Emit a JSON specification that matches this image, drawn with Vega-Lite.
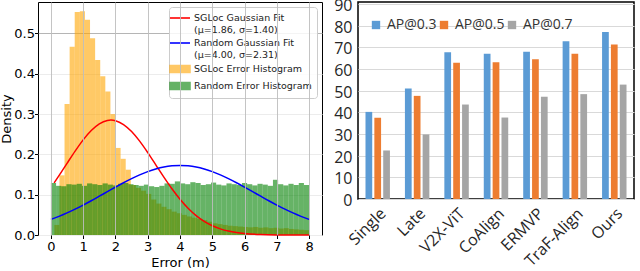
{
  "$schema": "https://vega.github.io/schema/vega-lite/v6.json",
  "padding": {"left": 0, "top": -4, "right": 2, "bottom": 0},
  "background": "white",
  "spacing": 9,
  "datasets": {
    "hist": [
      {"series": "SGLoc Error Histogram", "x0": 0.106, "x1": 0.264, "density": 0.025},
      {"series": "SGLoc Error Histogram", "x0": 0.264, "x1": 0.422, "density": 0.148},
      {"series": "SGLoc Error Histogram", "x0": 0.422, "x1": 0.58, "density": 0.325},
      {"series": "SGLoc Error Histogram", "x0": 0.58, "x1": 0.738, "density": 0.467},
      {"series": "SGLoc Error Histogram", "x0": 0.738, "x1": 0.896, "density": 0.553},
      {"series": "SGLoc Error Histogram", "x0": 0.896, "x1": 1.054, "density": 0.555},
      {"series": "SGLoc Error Histogram", "x0": 1.054, "x1": 1.212, "density": 0.534},
      {"series": "SGLoc Error Histogram", "x0": 1.212, "x1": 1.37, "density": 0.488},
      {"series": "SGLoc Error Histogram", "x0": 1.37, "x1": 1.528, "density": 0.434},
      {"series": "SGLoc Error Histogram", "x0": 1.528, "x1": 1.686, "density": 0.394},
      {"series": "SGLoc Error Histogram", "x0": 1.686, "x1": 1.844, "density": 0.356},
      {"series": "SGLoc Error Histogram", "x0": 1.844, "x1": 2.002, "density": 0.3},
      {"series": "SGLoc Error Histogram", "x0": 2.002, "x1": 2.16, "density": 0.216},
      {"series": "SGLoc Error Histogram", "x0": 2.16, "x1": 2.318, "density": 0.189},
      {"series": "SGLoc Error Histogram", "x0": 2.318, "x1": 2.476, "density": 0.162},
      {"series": "SGLoc Error Histogram", "x0": 2.476, "x1": 2.634, "density": 0.124},
      {"series": "SGLoc Error Histogram", "x0": 2.634, "x1": 2.792, "density": 0.117},
      {"series": "SGLoc Error Histogram", "x0": 2.792, "x1": 2.95, "density": 0.11},
      {"series": "SGLoc Error Histogram", "x0": 2.95, "x1": 3.108, "density": 0.102},
      {"series": "SGLoc Error Histogram", "x0": 3.108, "x1": 3.266, "density": 0.088},
      {"series": "SGLoc Error Histogram", "x0": 3.266, "x1": 3.424, "density": 0.078},
      {"series": "SGLoc Error Histogram", "x0": 3.424, "x1": 3.582, "density": 0.07},
      {"series": "SGLoc Error Histogram", "x0": 3.582, "x1": 3.74, "density": 0.064},
      {"series": "SGLoc Error Histogram", "x0": 3.74, "x1": 3.898, "density": 0.058},
      {"series": "SGLoc Error Histogram", "x0": 3.898, "x1": 4.056, "density": 0.054},
      {"series": "SGLoc Error Histogram", "x0": 4.056, "x1": 4.214, "density": 0.05},
      {"series": "SGLoc Error Histogram", "x0": 4.214, "x1": 4.372, "density": 0.046},
      {"series": "SGLoc Error Histogram", "x0": 4.372, "x1": 4.53, "density": 0.043},
      {"series": "SGLoc Error Histogram", "x0": 4.53, "x1": 4.688, "density": 0.04},
      {"series": "SGLoc Error Histogram", "x0": 4.688, "x1": 4.846, "density": 0.037},
      {"series": "SGLoc Error Histogram", "x0": 4.846, "x1": 5.004, "density": 0.033},
      {"series": "SGLoc Error Histogram", "x0": 5.004, "x1": 5.162, "density": 0.029},
      {"series": "SGLoc Error Histogram", "x0": 5.162, "x1": 5.32, "density": 0.027},
      {"series": "SGLoc Error Histogram", "x0": 5.32, "x1": 5.478, "density": 0.025},
      {"series": "SGLoc Error Histogram", "x0": 5.478, "x1": 5.636, "density": 0.023},
      {"series": "SGLoc Error Histogram", "x0": 5.636, "x1": 5.794, "density": 0.022},
      {"series": "SGLoc Error Histogram", "x0": 5.794, "x1": 5.952, "density": 0.021},
      {"series": "SGLoc Error Histogram", "x0": 5.952, "x1": 6.11, "density": 0.02},
      {"series": "SGLoc Error Histogram", "x0": 6.11, "x1": 6.268, "density": 0.019},
      {"series": "SGLoc Error Histogram", "x0": 6.268, "x1": 6.426, "density": 0.02},
      {"series": "SGLoc Error Histogram", "x0": 6.426, "x1": 6.584, "density": 0.018},
      {"series": "SGLoc Error Histogram", "x0": 6.584, "x1": 6.742, "density": 0.019},
      {"series": "SGLoc Error Histogram", "x0": 6.742, "x1": 6.9, "density": 0.017},
      {"series": "SGLoc Error Histogram", "x0": 6.9, "x1": 7.058, "density": 0.018},
      {"series": "SGLoc Error Histogram", "x0": 7.058, "x1": 7.216, "density": 0.016},
      {"series": "SGLoc Error Histogram", "x0": 7.216, "x1": 7.374, "density": 0.017},
      {"series": "SGLoc Error Histogram", "x0": 7.374, "x1": 7.532, "density": 0.015},
      {"series": "SGLoc Error Histogram", "x0": 7.532, "x1": 7.69, "density": 0.014},
      {"series": "SGLoc Error Histogram", "x0": 7.69, "x1": 7.848, "density": 0.013},
      {"series": "SGLoc Error Histogram", "x0": 7.848, "x1": 8.0, "density": 0.012},
      {"series": "Random Error Histogram", "x0": 0.0, "x1": 0.16, "density": 0.129},
      {"series": "Random Error Histogram", "x0": 0.16, "x1": 0.32, "density": 0.122},
      {"series": "Random Error Histogram", "x0": 0.32, "x1": 0.48, "density": 0.121},
      {"series": "Random Error Histogram", "x0": 0.48, "x1": 0.64, "density": 0.126},
      {"series": "Random Error Histogram", "x0": 0.64, "x1": 0.8, "density": 0.125},
      {"series": "Random Error Histogram", "x0": 0.8, "x1": 0.96, "density": 0.127},
      {"series": "Random Error Histogram", "x0": 0.96, "x1": 1.12, "density": 0.122},
      {"series": "Random Error Histogram", "x0": 1.12, "x1": 1.28, "density": 0.128},
      {"series": "Random Error Histogram", "x0": 1.28, "x1": 1.44, "density": 0.126},
      {"series": "Random Error Histogram", "x0": 1.44, "x1": 1.6, "density": 0.124},
      {"series": "Random Error Histogram", "x0": 1.6, "x1": 1.76, "density": 0.128},
      {"series": "Random Error Histogram", "x0": 1.76, "x1": 1.92, "density": 0.125},
      {"series": "Random Error Histogram", "x0": 1.92, "x1": 2.08, "density": 0.123},
      {"series": "Random Error Histogram", "x0": 2.08, "x1": 2.24, "density": 0.127},
      {"series": "Random Error Histogram", "x0": 2.24, "x1": 2.4, "density": 0.129},
      {"series": "Random Error Histogram", "x0": 2.4, "x1": 2.56, "density": 0.126},
      {"series": "Random Error Histogram", "x0": 2.56, "x1": 2.72, "density": 0.124},
      {"series": "Random Error Histogram", "x0": 2.72, "x1": 2.88, "density": 0.122},
      {"series": "Random Error Histogram", "x0": 2.88, "x1": 3.04, "density": 0.125},
      {"series": "Random Error Histogram", "x0": 3.04, "x1": 3.2, "density": 0.121},
      {"series": "Random Error Histogram", "x0": 3.2, "x1": 3.36, "density": 0.119},
      {"series": "Random Error Histogram", "x0": 3.36, "x1": 3.52, "density": 0.122},
      {"series": "Random Error Histogram", "x0": 3.52, "x1": 3.68, "density": 0.128},
      {"series": "Random Error Histogram", "x0": 3.68, "x1": 3.84, "density": 0.127},
      {"series": "Random Error Histogram", "x0": 3.84, "x1": 4.0, "density": 0.133},
      {"series": "Random Error Histogram", "x0": 4.0, "x1": 4.16, "density": 0.128},
      {"series": "Random Error Histogram", "x0": 4.16, "x1": 4.32, "density": 0.126},
      {"series": "Random Error Histogram", "x0": 4.32, "x1": 4.48, "density": 0.131},
      {"series": "Random Error Histogram", "x0": 4.48, "x1": 4.64, "density": 0.129},
      {"series": "Random Error Histogram", "x0": 4.64, "x1": 4.8, "density": 0.124},
      {"series": "Random Error Histogram", "x0": 4.8, "x1": 4.96, "density": 0.126},
      {"series": "Random Error Histogram", "x0": 4.96, "x1": 5.12, "density": 0.13},
      {"series": "Random Error Histogram", "x0": 5.12, "x1": 5.28, "density": 0.125},
      {"series": "Random Error Histogram", "x0": 5.28, "x1": 5.44, "density": 0.123},
      {"series": "Random Error Histogram", "x0": 5.44, "x1": 5.6, "density": 0.128},
      {"series": "Random Error Histogram", "x0": 5.6, "x1": 5.76, "density": 0.126},
      {"series": "Random Error Histogram", "x0": 5.76, "x1": 5.92, "density": 0.124},
      {"series": "Random Error Histogram", "x0": 5.92, "x1": 6.08, "density": 0.129},
      {"series": "Random Error Histogram", "x0": 6.08, "x1": 6.24, "density": 0.126},
      {"series": "Random Error Histogram", "x0": 6.24, "x1": 6.4, "density": 0.123},
      {"series": "Random Error Histogram", "x0": 6.4, "x1": 6.56, "density": 0.127},
      {"series": "Random Error Histogram", "x0": 6.56, "x1": 6.72, "density": 0.125},
      {"series": "Random Error Histogram", "x0": 6.72, "x1": 6.88, "density": 0.122},
      {"series": "Random Error Histogram", "x0": 6.88, "x1": 7.04, "density": 0.137},
      {"series": "Random Error Histogram", "x0": 7.04, "x1": 7.2, "density": 0.126},
      {"series": "Random Error Histogram", "x0": 7.2, "x1": 7.36, "density": 0.123},
      {"series": "Random Error Histogram", "x0": 7.36, "x1": 7.52, "density": 0.127},
      {"series": "Random Error Histogram", "x0": 7.52, "x1": 7.68, "density": 0.124},
      {"series": "Random Error Histogram", "x0": 7.68, "x1": 7.84, "density": 0.129},
      {"series": "Random Error Histogram", "x0": 7.84, "x1": 8.0, "density": 0.124}
    ],
    "curves": [
      {"series": "SGLoc Gaussian Fit (μ=1.86, σ=1.40)", "x": 0.1, "density": 0.1293},
      {"series": "SGLoc Gaussian Fit (μ=1.86, σ=1.40)", "x": 0.25, "density": 0.1471},
      {"series": "SGLoc Gaussian Fit (μ=1.86, σ=1.40)", "x": 0.5, "density": 0.1778},
      {"series": "SGLoc Gaussian Fit (μ=1.86, σ=1.40)", "x": 0.75, "density": 0.2081},
      {"series": "SGLoc Gaussian Fit (μ=1.86, σ=1.40)", "x": 1.0, "density": 0.236},
      {"series": "SGLoc Gaussian Fit (μ=1.86, σ=1.40)", "x": 1.25, "density": 0.2591},
      {"series": "SGLoc Gaussian Fit (μ=1.86, σ=1.40)", "x": 1.5, "density": 0.2757},
      {"series": "SGLoc Gaussian Fit (μ=1.86, σ=1.40)", "x": 1.75, "density": 0.2841},
      {"series": "SGLoc Gaussian Fit (μ=1.86, σ=1.40)", "x": 1.86, "density": 0.285},
      {"series": "SGLoc Gaussian Fit (μ=1.86, σ=1.40)", "x": 2.0, "density": 0.2836},
      {"series": "SGLoc Gaussian Fit (μ=1.86, σ=1.40)", "x": 2.25, "density": 0.2741},
      {"series": "SGLoc Gaussian Fit (μ=1.86, σ=1.40)", "x": 2.5, "density": 0.2567},
      {"series": "SGLoc Gaussian Fit (μ=1.86, σ=1.40)", "x": 2.75, "density": 0.2328},
      {"series": "SGLoc Gaussian Fit (μ=1.86, σ=1.40)", "x": 3.0, "density": 0.2045},
      {"series": "SGLoc Gaussian Fit (μ=1.86, σ=1.40)", "x": 3.25, "density": 0.1741},
      {"series": "SGLoc Gaussian Fit (μ=1.86, σ=1.40)", "x": 3.5, "density": 0.1435},
      {"series": "SGLoc Gaussian Fit (μ=1.86, σ=1.40)", "x": 3.75, "density": 0.1146},
      {"series": "SGLoc Gaussian Fit (μ=1.86, σ=1.40)", "x": 4.0, "density": 0.0886},
      {"series": "SGLoc Gaussian Fit (μ=1.86, σ=1.40)", "x": 4.25, "density": 0.0664},
      {"series": "SGLoc Gaussian Fit (μ=1.86, σ=1.40)", "x": 4.5, "density": 0.0482},
      {"series": "SGLoc Gaussian Fit (μ=1.86, σ=1.40)", "x": 4.75, "density": 0.0339},
      {"series": "SGLoc Gaussian Fit (μ=1.86, σ=1.40)", "x": 5.0, "density": 0.023},
      {"series": "SGLoc Gaussian Fit (μ=1.86, σ=1.40)", "x": 5.25, "density": 0.0152},
      {"series": "SGLoc Gaussian Fit (μ=1.86, σ=1.40)", "x": 5.5, "density": 0.0097},
      {"series": "SGLoc Gaussian Fit (μ=1.86, σ=1.40)", "x": 5.75, "density": 0.006},
      {"series": "SGLoc Gaussian Fit (μ=1.86, σ=1.40)", "x": 6.0, "density": 0.0036},
      {"series": "SGLoc Gaussian Fit (μ=1.86, σ=1.40)", "x": 6.5, "density": 0.0012},
      {"series": "SGLoc Gaussian Fit (μ=1.86, σ=1.40)", "x": 7.0, "density": 0.0003},
      {"series": "SGLoc Gaussian Fit (μ=1.86, σ=1.40)", "x": 7.5, "density": 0.0001},
      {"series": "SGLoc Gaussian Fit (μ=1.86, σ=1.40)", "x": 8.0, "density": 0.0},
      {"series": "Random Gaussian Fit (μ=4.00, σ=2.31)", "x": 0.0, "density": 0.0386},
      {"series": "Random Gaussian Fit (μ=4.00, σ=2.31)", "x": 0.25, "density": 0.0462},
      {"series": "Random Gaussian Fit (μ=4.00, σ=2.31)", "x": 0.5, "density": 0.0548},
      {"series": "Random Gaussian Fit (μ=4.00, σ=2.31)", "x": 0.75, "density": 0.0642},
      {"series": "Random Gaussian Fit (μ=4.00, σ=2.31)", "x": 1.0, "density": 0.0743},
      {"series": "Random Gaussian Fit (μ=4.00, σ=2.31)", "x": 1.25, "density": 0.085},
      {"series": "Random Gaussian Fit (μ=4.00, σ=2.31)", "x": 1.5, "density": 0.0962},
      {"series": "Random Gaussian Fit (μ=4.00, σ=2.31)", "x": 1.75, "density": 0.1075},
      {"series": "Random Gaussian Fit (μ=4.00, σ=2.31)", "x": 2.0, "density": 0.1187},
      {"series": "Random Gaussian Fit (μ=4.00, σ=2.31)", "x": 2.25, "density": 0.1296},
      {"series": "Random Gaussian Fit (μ=4.00, σ=2.31)", "x": 2.5, "density": 0.1399},
      {"series": "Random Gaussian Fit (μ=4.00, σ=2.31)", "x": 2.75, "density": 0.1492},
      {"series": "Random Gaussian Fit (μ=4.00, σ=2.31)", "x": 3.0, "density": 0.1573},
      {"series": "Random Gaussian Fit (μ=4.00, σ=2.31)", "x": 3.25, "density": 0.1638},
      {"series": "Random Gaussian Fit (μ=4.00, σ=2.31)", "x": 3.5, "density": 0.1687},
      {"series": "Random Gaussian Fit (μ=4.00, σ=2.31)", "x": 3.75, "density": 0.1717},
      {"series": "Random Gaussian Fit (μ=4.00, σ=2.31)", "x": 4.0, "density": 0.1727},
      {"series": "Random Gaussian Fit (μ=4.00, σ=2.31)", "x": 4.25, "density": 0.1717},
      {"series": "Random Gaussian Fit (μ=4.00, σ=2.31)", "x": 4.5, "density": 0.1687},
      {"series": "Random Gaussian Fit (μ=4.00, σ=2.31)", "x": 4.75, "density": 0.1638},
      {"series": "Random Gaussian Fit (μ=4.00, σ=2.31)", "x": 5.0, "density": 0.1573},
      {"series": "Random Gaussian Fit (μ=4.00, σ=2.31)", "x": 5.25, "density": 0.1492},
      {"series": "Random Gaussian Fit (μ=4.00, σ=2.31)", "x": 5.5, "density": 0.1399},
      {"series": "Random Gaussian Fit (μ=4.00, σ=2.31)", "x": 5.75, "density": 0.1296},
      {"series": "Random Gaussian Fit (μ=4.00, σ=2.31)", "x": 6.0, "density": 0.1187},
      {"series": "Random Gaussian Fit (μ=4.00, σ=2.31)", "x": 6.25, "density": 0.1075},
      {"series": "Random Gaussian Fit (μ=4.00, σ=2.31)", "x": 6.5, "density": 0.0962},
      {"series": "Random Gaussian Fit (μ=4.00, σ=2.31)", "x": 6.75, "density": 0.085},
      {"series": "Random Gaussian Fit (μ=4.00, σ=2.31)", "x": 7.0, "density": 0.0743},
      {"series": "Random Gaussian Fit (μ=4.00, σ=2.31)", "x": 7.25, "density": 0.0642},
      {"series": "Random Gaussian Fit (μ=4.00, σ=2.31)", "x": 7.5, "density": 0.0548},
      {"series": "Random Gaussian Fit (μ=4.00, σ=2.31)", "x": 7.75, "density": 0.0462},
      {"series": "Random Gaussian Fit (μ=4.00, σ=2.31)", "x": 8.0, "density": 0.0386}
    ],
    "ap": [
      {"method": "Single", "metric": "AP@0.3", "ap": 40.2},
      {"method": "Single", "metric": "AP@0.5", "ap": 37.5},
      {"method": "Single", "metric": "AP@0.7", "ap": 22.4},
      {"method": "Late", "metric": "AP@0.3", "ap": 51.0},
      {"method": "Late", "metric": "AP@0.5", "ap": 47.6},
      {"method": "Late", "metric": "AP@0.7", "ap": 29.8},
      {"method": "V2X-ViT", "metric": "AP@0.3", "ap": 67.7},
      {"method": "V2X-ViT", "metric": "AP@0.5", "ap": 62.9},
      {"method": "V2X-ViT", "metric": "AP@0.7", "ap": 43.6},
      {"method": "CoAlign", "metric": "AP@0.3", "ap": 67.0},
      {"method": "CoAlign", "metric": "AP@0.5", "ap": 63.1},
      {"method": "CoAlign", "metric": "AP@0.7", "ap": 37.6},
      {"method": "ERMVP", "metric": "AP@0.3", "ap": 68.0},
      {"method": "ERMVP", "metric": "AP@0.5", "ap": 64.5},
      {"method": "ERMVP", "metric": "AP@0.7", "ap": 47.2},
      {"method": "TraF-Align", "metric": "AP@0.3", "ap": 72.8},
      {"method": "TraF-Align", "metric": "AP@0.5", "ap": 67.0},
      {"method": "TraF-Align", "metric": "AP@0.7", "ap": 48.4},
      {"method": "Ours", "metric": "AP@0.3", "ap": 77.1},
      {"method": "Ours", "metric": "AP@0.5", "ap": 71.3},
      {"method": "Ours", "metric": "AP@0.7", "ap": 52.8}
    ]
  },
  "hconcat": [
    {
      "width": 284,
      "height": 233,
      "view": {"stroke": "black", "strokeWidth": 1},
      "layer": [
        {
          "data": {"name": "hist"},
          "mark": {"type": "bar", "opacity": 0.6},
          "encoding": {
            "x": {
              "field": "x0", "type": "quantitative", "title": "Error (m)",
              "scale": {"domain": [-0.4, 8.4], "nice": false, "zero": false},
              "axis": {"values": [0, 1, 2, 3, 4, 5, 6, 7, 8], "format": "d", "labelOverlap": false, "zindex": 1, "grid": true, "gridColor": "#bdbdbd", "gridWidth": 0.9, "domain": false, "tickSize": 3.5, "tickColor": "black", "labelPadding": 2, "titlePadding": 3}
            },
            "x2": {"field": "x1"},
            "y": {
              "field": "density", "type": "quantitative", "title": "Density", "stack": null,
              "scale": {"domain": [0, 0.578], "nice": false},
              "axis": {"values": [0, 0.1, 0.2, 0.3, 0.4, 0.5], "format": ".1f", "labelOverlap": false, "grid": true, "gridColor": {"condition": {"test": "datum.value == 0.5", "value": "#b5b5b5"}, "value": "#ececec"}, "domain": false, "tickSize": 3.5, "tickColor": "black", "labelPadding": 0, "titlePadding": 0}
            },
            "y2": {"datum": 0},
            "color": {
              "field": "series", "type": "nominal",
              "scale": {
                "domain": ["SGLoc Gaussian Fit (μ=1.86, σ=1.40)", "Random Gaussian Fit (μ=4.00, σ=2.31)", "SGLoc Error Histogram", "Random Error Histogram"],
                "range": ["#FF0000", "#0000FF", "#FFA500", "#008000"]
              },
              "legend": {
                "title": null,
                "orient": "top-right",
                "offset": 5,
                "labelFont": "DejaVu Sans",
                "labelFontSize": 9.5,
                "labelColor": "#222222",
                "labelLimit": 300,
                "labelOffset": 8,
                "labelExpr": "split(replace(datum.label, ' (', '|('), '|')",
                "symbolSize": 100,
                "symbolStrokeWidth": 1.6,
                "rowPadding": 3,
                "padding": 5,
                "strokeColor": "#cccccc",
                "fillColor": "rgba(255,255,255,0.85)",
                "cornerRadius": 3,
                "encoding": {
                  "symbols": {
                    "shape": {"condition": {"test": "indexof(datum.value, 'Histogram') >= 0", "value": "M-2,-0.7H2V0.7H-2Z"}, "value": "M-2,0H2"},
                    "fill": {"condition": [{"test": "datum.value == 'SGLoc Error Histogram'", "value": "#FFA500"}, {"test": "datum.value == 'Random Error Histogram'", "value": "#008000"}], "value": "transparent"},
                    "stroke": {"condition": [{"test": "indexof(datum.value, 'SGLoc Gaussian') >= 0", "value": "#FF0000"}, {"test": "indexof(datum.value, 'Random Gaussian') >= 0", "value": "#0000FF"}], "value": "transparent"},
                    "opacity": {"condition": {"test": "indexof(datum.value, 'Histogram') >= 0", "value": 0.6}, "value": 1}
                  }
                }
              }
            }
          }
        },
        {
          "data": {"name": "curves"},
          "mark": {"type": "line", "strokeWidth": 1.5, "interpolate": "monotone"},
          "encoding": {
            "x": {
              "field": "x", "type": "quantitative", "title": "Error (m)",
              "axis": {"values": [0, 1, 2, 3, 4, 5, 6, 7, 8], "format": "d", "labelOverlap": false, "zindex": 1, "grid": true, "gridColor": "#bdbdbd", "gridWidth": 0.9, "domain": false, "tickSize": 3.5, "tickColor": "black", "labelPadding": 2, "titlePadding": 3}
            },
            "y": {
              "field": "density", "type": "quantitative", "title": "Density",
              "axis": {"values": [0, 0.1, 0.2, 0.3, 0.4, 0.5], "format": ".1f", "labelOverlap": false, "grid": true, "gridColor": {"condition": {"test": "datum.value == 0.5", "value": "#b5b5b5"}, "value": "#ececec"}, "domain": false, "tickSize": 3.5, "tickColor": "black", "labelPadding": 0, "titlePadding": 0}
            },
            "color": {"field": "series", "type": "nominal"}
          }
        }
      ]
    },
    {
      "width": 276,
      "height": 197,
      "view": {"stroke": "black", "strokeWidth": 1.5},
      "data": {"name": "ap"},
      "mark": {"type": "bar"},
      "encoding": {
        "x": {
          "field": "method", "type": "nominal", "title": null,
          "sort": ["Single", "Late", "V2X-ViT", "CoAlign", "ERMVP", "TraF-Align", "Ours"],
          "scale": {"paddingInner": 0.38, "paddingOuter": 0.19},
          "axis": {"labelAngle": -45, "ticks": false, "domain": false, "labelFont": "Open Sans", "labelFontSize": 16, "labelColor": "#262626", "labelPadding": 6}
        },
        "xOffset": {"field": "metric", "sort": ["AP@0.3", "AP@0.5", "AP@0.7"], "scale": {"paddingInner": 0.24}},
        "y": {
          "field": "ap", "type": "quantitative", "title": null,
          "scale": {"domain": [0, 90.92], "nice": false},
          "axis": {"values": [0, 10, 20, 30, 40, 50, 60, 70, 80, 90], "ticks": false, "domain": false, "grid": true, "gridColor": "#d9d9d9", "labelFont": "Open Sans", "labelFontSize": 16, "labelColor": "#262626", "labelPadding": 6, "labelOffset": 1.5}
        },
        "color": {
          "field": "metric", "type": "nominal",
          "scale": {"domain": ["AP@0.3", "AP@0.5", "AP@0.7"], "range": ["#5B9BD5", "#ED7D31", "#A5A5A5"]},
          "legend": {
            "title": null, "orient": "none", "legendX": 11, "legendY": 16, "direction": "horizontal",
            "symbolType": "square", "symbolSize": 70, "labelFont": "Open Sans", "labelFontSize": 14,
            "labelColor": "#333333", "labelOffset": 4, "columnPadding": 0, "padding": 0
          }
        }
      }
    }
  ],
  "resolve": {"scale": {"color": "independent", "x": "independent", "y": "independent"}, "legend": {"color": "independent"}},
  "config": {
    "font": "DejaVu Sans",
    "axis": {"labelFont": "DejaVu Sans", "labelFontSize": 13, "labelColor": "black", "titleFont": "DejaVu Sans", "titleFontSize": 13, "titleFontWeight": "normal", "titleColor": "black"}
  }
}
